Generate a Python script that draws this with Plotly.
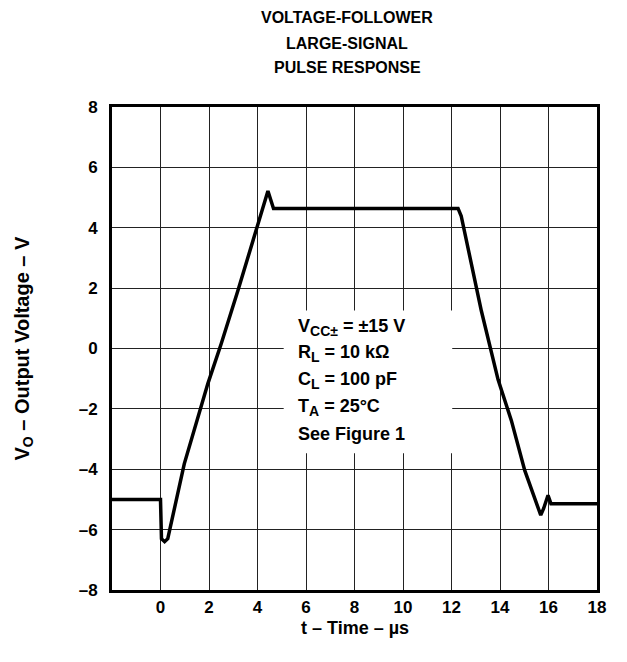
import plotly.graph_objects as go

# Waveform data (time in microseconds, output voltage in volts)
time_us = [-2, 0, 0.04, 0.17, 0.3, 0.98, 1.95, 2.5, 3.19, 4.01, 4.43, 4.66,
           12.27, 12.4, 13.23, 13.92, 14.47, 15.02, 15.68, 15.8, 15.98, 16.1, 18]
vout = [-5.0, -5.0, -6.3, -6.4, -6.3, -3.82, -1.17, 0.15, 1.91, 4.11, 5.22, 4.64,
        4.64, 4.39, 1.25, -1.03, -2.39, -4.04, -5.52, -5.3, -4.86, -5.14, -5.14]

x_ticks = [0, 2, 4, 6, 8, 10, 12, 14, 16, 18]
x_ticktext = ["0", "2", "4", "6", "8", "10", "12", "14", "16", "18"]
y_ticks = [-8, -6, -4, -2, 0, 2, 4, 6, 8]
y_ticktext = ["–8", "–6", "–4", "–2", "0", "2", "4", "6", "8"]

title_lines = ["VOLTAGE-FOLLOWER", "LARGE-SIGNAL", "PULSE RESPONSE"]
SUB = "<sub><span style='font-size:14px'>{}</span></sub>"
cond_lines = ["V" + SUB.format("CC±") + " = ±15 V",
              "R" + SUB.format("L") + " = 10 kΩ",
              "C" + SUB.format("L") + " = 100 pF",
              "T" + SUB.format("A") + " = 25°C",
              "See Figure 1"]

FONT = "Liberation Sans, Arial, Helvetica, sans-serif"
L, R, T, B = 104, 38, 99, 80
W, H = 627, 662
PW, PH = W - L - R, H - T - B

fig = go.Figure()
fig.add_trace(go.Scatter(x=time_us, y=vout, mode="lines",
                         line=dict(color="black", width=3.5), showlegend=False,
                         hoverinfo="skip"))

axis_common = dict(showgrid=True, gridcolor="#222", gridwidth=1, zeroline=False,
                   showline=True, linecolor="black", linewidth=3, mirror=True,
                   ticks="", tickfont=dict(family=FONT, size=17, color="black", weight="bold"))

fig.update_xaxes(range=[-2, 18], tickvals=x_ticks, ticktext=x_ticktext, ticklabelstandoff=0,
                 **axis_common)
fig.update_yaxes(range=[-8, 8], tickvals=y_ticks, ticktext=y_ticktext, ticklabelstandoff=8,
                 **axis_common)

# white background for the conditions block (covers grid lines)
fig.add_shape(type="rect", xref="x", yref="y", x0=5.08, x1=12.03, y0=-3.47, y1=1.26,
              fillcolor="white", line=dict(width=0), layer="between")


def px_x(px):
    return (px - L) / PW


def px_y(py):
    return 1 - (py - T) / PH


ann = []
for i, t in enumerate(title_lines):
    ann.append(dict(text=t, xref="paper", yref="paper", x=px_x(339), y=px_y(10 + 25 * i),
                    xanchor="center", yanchor="middle", showarrow=False,
                    font=dict(family=FONT, size=16, color="black", weight="bold")))
for i, t in enumerate(cond_lines):
    ann.append(dict(text=t, xref="paper", yref="paper", x=px_x(288),
                    y=px_y(319 + 26.75 * i),
                    xanchor="left", yanchor="middle", showarrow=False, align="left",
                    font=dict(family=FONT, size=18, color="black", weight="bold")))
ann.append(dict(text="t – Time – µs", xref="paper", yref="paper", x=0.5, y=px_y(620),
                xanchor="center", yanchor="middle", showarrow=False,
                font=dict(family=FONT, size=18, color="black", weight="bold")))
ann.append(dict(text="V<sub>O</sub> – Output Voltage – V", xref="paper", yref="paper",
                x=px_x(15), y=0.5, textangle=-90, xanchor="center", yanchor="middle",
                showarrow=False,
                font=dict(family=FONT, size=20, color="black", weight="bold")))

fig.update_layout(width=W, height=H, margin=dict(l=L, r=R, t=T, b=B),
                  paper_bgcolor="white", plot_bgcolor="white", annotations=ann)

fig.write_html("out.html")
